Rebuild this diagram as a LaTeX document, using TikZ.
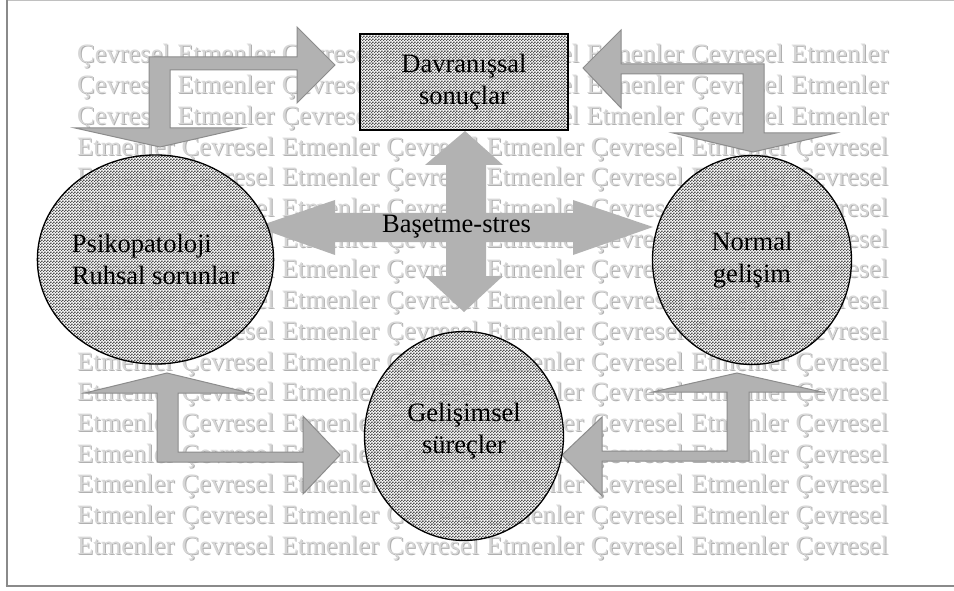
\documentclass[tikz,border=0pt]{standalone}
\usepackage{fontspec}
\setmainfont{Liberation Serif}
\usetikzlibrary{shapes.geometric,patterns.meta}
\definecolor{chkdark}{HTML}{505050}
\definecolor{chklight}{HTML}{F4F4F4}
\definecolor{wmfront}{HTML}{D6D6D6}
\definecolor{wmshadow}{HTML}{B0B0B0}
\definecolor{arrfill}{HTML}{B2B2B2}
\definecolor{arrline}{HTML}{8C8C8C}
\definecolor{frameA}{HTML}{8A8A8A}
\definecolor{frameB}{HTML}{C0C0C0}
\tikzdeclarepattern{
  name=chk,
  type=colored,
  bottom left={(0pt,0pt)},
  top right={(2.66pt,2.66pt)},
  tile size={(2.66pt,2.66pt)},
  code={
    \fill[chklight] (0pt,0pt) rectangle (2.66pt,2.66pt);
    \fill[chkdark] (0pt,0pt) rectangle (1.33pt,1.33pt);
    \fill[chkdark] (1.33pt,1.33pt) rectangle (2.66pt,2.66pt);
  }
}
\newcommand{\rowA}{Çevresel Etmenler Çevresel Etmenler Çevresel Etmenler Çevresel Etmenler}
\newcommand{\rowB}{Etmenler Çevresel Etmenler Çevresel Etmenler Çevresel Etmenler Çevresel}
\begin{document}
\begin{tikzpicture}[x=1pt,y=-1pt,
  wm/.style={inner sep=0pt,anchor=base west,font=\fontsize{26.5}{30}\selectfont},
  blockarrow/.style={fill=arrfill,draw=arrline,line width=1pt,line join=miter},
  crossarrow/.style={fill=arrfill,draw=none},
  lbl/.style={font=\fontsize{26.5}{31.5}\selectfont,text=black},
  chkshape/.style={pattern=chk,draw=black,line width=1.3pt},
  bubble/.style={chkshape,ellipse,minimum width=199pt,minimum height=209pt,inner sep=0pt}
]
\useasboundingbox (0,0) rectangle (954,591);
\fill[white] (0,0) rectangle (954,591);
% frame
\draw[frameB,line width=1.5pt] (7,0.75) -- (954,0.75);
\draw[frameA,line width=2pt] (6.5,0) -- (6.5,587);
\draw[frameA,line width=2pt] (5.5,586) -- (954,586);
% watermark rows
\foreach \i in {0,...,16}{
  \pgfmathsetmacro\yb{63+30.7*\i}
  \ifnum\i<3
    \node[wm,text=wmshadow] (bgS\i) at (78,\yb+1) {\makebox[811pt][s]{\rowA}};
    \node[wm,text=wmfront] (bg\i) at (77,\yb) {\makebox[811pt][s]{\rowA}};
  \else
    \node[wm,text=wmshadow] (bgS\i) at (78,\yb+1) {\makebox[811pt][s]{\rowB}};
    \node[wm,text=wmfront] (bg\i) at (77,\yb) {\makebox[811pt][s]{\rowB}};
  \fi
}
% bent block arrows
\draw[blockarrow] (170,70) -- (297,70) -- (297,103) -- (335,65) -- (297,27) -- (297,57)
  -- (149,57) -- (149,128) -- (75,128) -- (160,147) -- (243,128) -- (170,128) -- cycle;
\draw[blockarrow] (583,68) -- (621,30) -- (621,64) -- (764,64) -- (764,133) -- (836,133)
  -- (753,152) -- (673,133) -- (743,133) -- (743,74) -- (621,74) -- (621,108) -- cycle;
\draw[blockarrow] (167,373) -- (250,393) -- (178,393) -- (178,452) -- (303,452) -- (303,416)
  -- (340,455) -- (303,494) -- (303,462) -- (157,462) -- (157,393) -- (85,393) -- cycle;
\draw[blockarrow] (737,373) -- (822,392) -- (749,392) -- (749,461) -- (602,461) -- (602,496)
  -- (562,455) -- (602,417) -- (602,451) -- (727,451) -- (727,392) -- (653,392) -- cycle;
% four-way cross arrow
\fill[crossarrow] (465,131) -- (503,165) -- (486,165) -- (486,213) -- (573,213) -- (573,200)
  -- (653,227) -- (573,255) -- (573,242) -- (486,242) -- (486,276) -- (503,276)
  -- (464,312) -- (425,276) -- (446,276) -- (446,242) -- (335,242) -- (335,255)
  -- (256,227) -- (335,200) -- (335,213) -- (446,213) -- (446,165) -- (425,165) -- cycle;
\node[lbl,inner sep=0pt] (bas) at (456.5,227) {Başetme-stres};
% box and circles
\node[chkshape,lbl,rectangle,minimum width=208pt,minimum height=96pt,align=center,inner sep=0pt]
  (davr) at (464,82) {Davranışsal\\sonuçlar};
\node[bubble,lbl,align=left] (psiko) at (155.5,259.5) {Psikopatoloji\\Ruhsal sorunlar};
\node[bubble,lbl,align=center] (normal) at (752,260) {Normal\\gelişim};
\node[bubble,lbl,align=center] (gelis) at (464,436) {};
\node[lbl,align=center,inner sep=0pt] (gelisT) at (464,431) {Gelişimsel\\süreçler};
\end{tikzpicture}
\end{document}
